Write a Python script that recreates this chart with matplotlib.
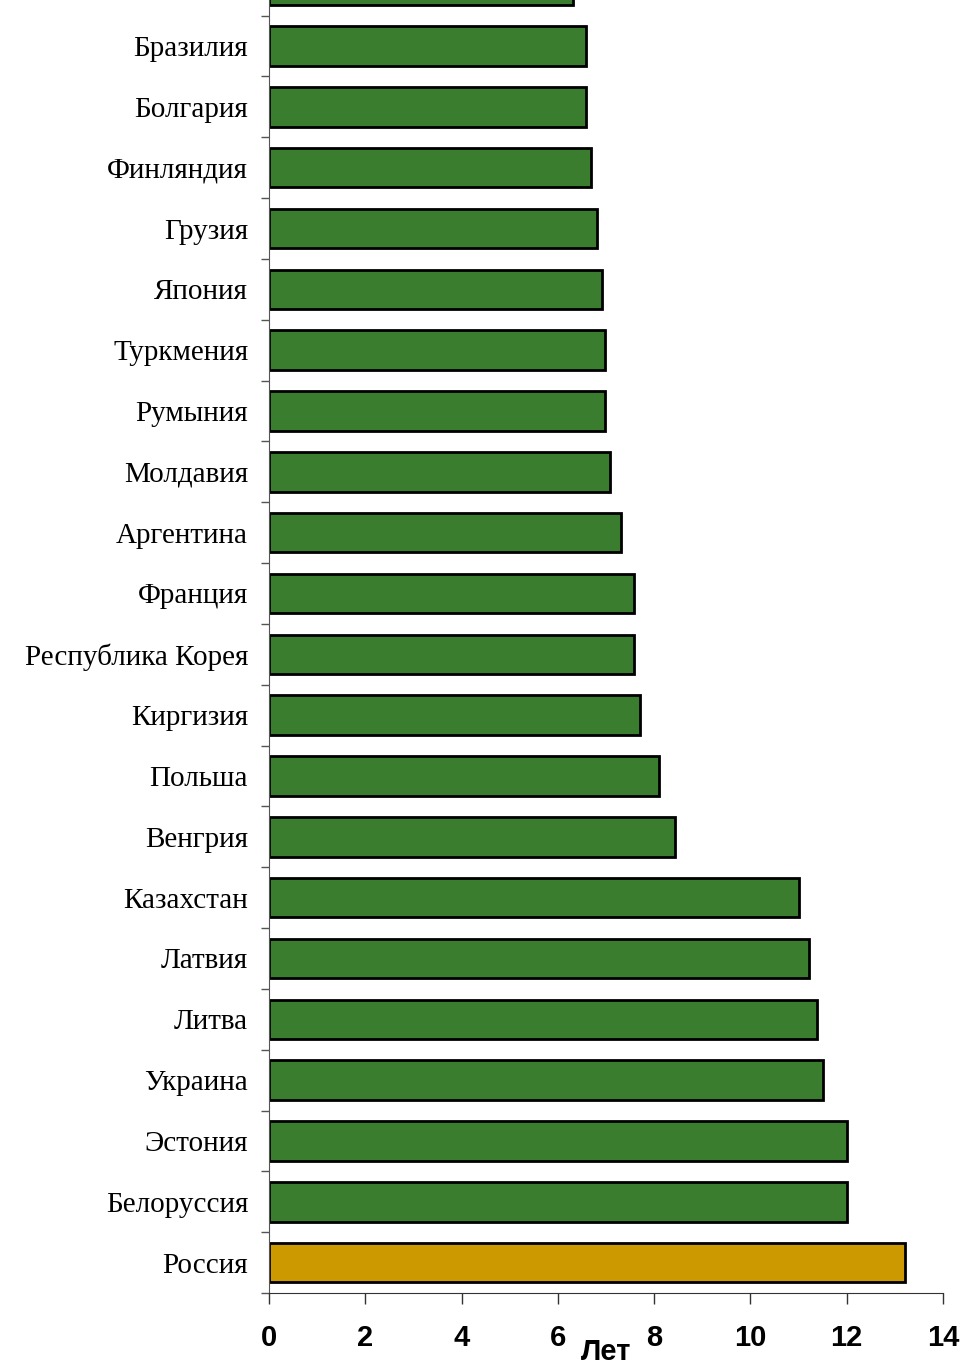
import matplotlib
matplotlib.use("Agg")
import matplotlib.pyplot as plt
import numpy as np

# countries listed bottom -> top
countries = ['Россия', 'Белоруссия', 'Эстония', 'Украина', 'Литва', 'Латвия',
             'Казахстан', 'Венгрия', 'Польша', 'Киргизия', 'Республика Корея',
             'Франция', 'Аргентина', 'Молдавия', 'Румыния', 'Туркмения',
             'Япония', 'Грузия', 'Финляндия', 'Болгария', 'Бразилия', '']
years = [13.22, 12.0, 12.0, 11.5, 11.38, 11.22, 11.0, 8.43, 8.1, 7.71, 7.58,
         7.58, 7.31, 7.08, 6.98, 6.98, 6.92, 6.81, 6.69, 6.58, 6.58, 6.31]
xticks = [0, 2, 4, 6, 8, 10, 12, 14]

green = '#3A7D2F'
gold = '#CC9900'
colors = [gold] + [green] * (len(countries) - 1)

W, H = 963, 1369
fig = plt.figure(figsize=(W / 100, H / 100), dpi=100)
# axes runs past the top of the figure, so the top bar is cut off
left, right, bottom = 269, 943, 1293
step = 60.8
top = 1262 - step * 21.5
ax = fig.add_axes([left / W, (H - bottom) / H, (right - left) / W, (bottom - top) / H])

y = np.arange(len(countries))
ax.barh(y, years, height=0.65, color=colors, edgecolor='black', linewidth=2)
ax.set_xlim(0, 14)
ax.set_ylim(-0.5, len(countries) - 0.5)

ax.set_yticks(y)
ax.set_yticklabels(countries, family=['Liberation Serif', 'DejaVu Serif'], fontsize=21)
ax.set_yticks(np.arange(-0.5, len(countries), 1), minor=True)
ax.tick_params(axis='y', which='major', length=0, pad=15)
ax.tick_params(axis='y', which='minor', length=6, width=1, color='#555555')

ax.set_xticks(xticks)
ax.set_xticklabels([str(v) for v in xticks], family='Liberation Sans',
                   fontsize=21, fontweight='bold')
ax.tick_params(axis='x', length=8, width=1, color='#333333', pad=14)
ax.set_xlabel('Лет', family='Liberation Sans',
              fontsize=21, fontweight='bold', labelpad=-10)

for s in ['top', 'right']:
    ax.spines[s].set_visible(False)
ax.spines['left'].set_color('#555555')
ax.spines['bottom'].set_color('#333333')

fig.savefig('out.png', dpi=100)
